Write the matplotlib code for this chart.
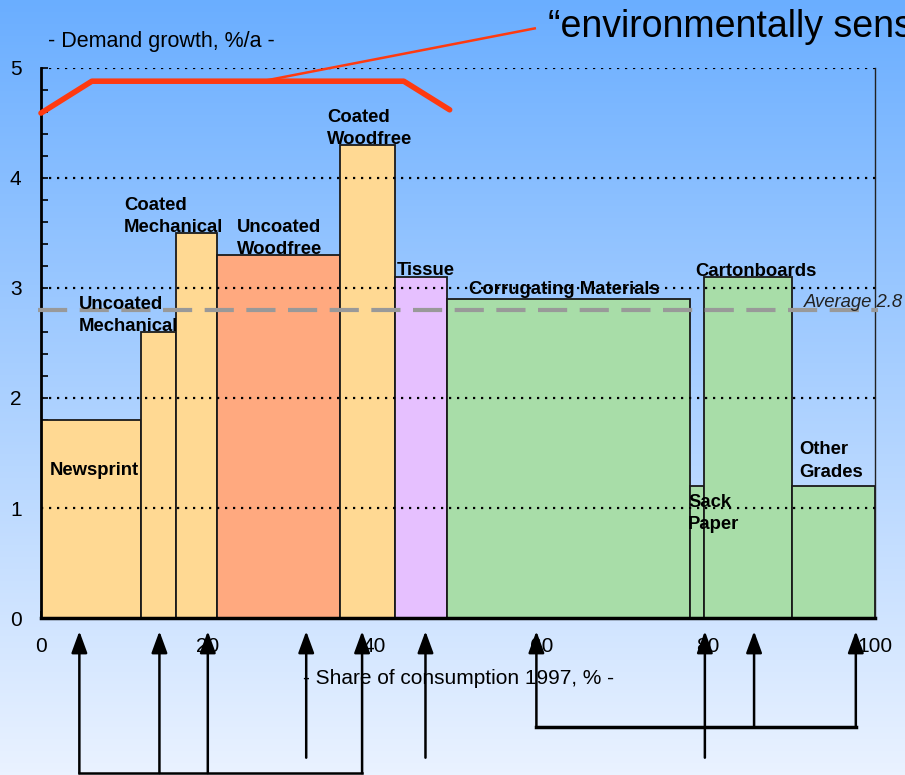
import numpy as np
import matplotlib
matplotlib.use("Agg")
import matplotlib.pyplot as plt
from matplotlib.ticker import MultipleLocator

plt.rcParams['font.family'] = ['Liberation Sans', 'DejaVu Sans']

# Paper & board grades: share of 1997 consumption (%) and demand growth (%/a)
grades = ["Newsprint", "Uncoated\nMechanical", "Coated\nMechanical", "Uncoated\nWoodfree",
          "Coated\nWoodfree", "Tissue", "Corrugating Materials", "Sack\nPaper",
          "Cartonboards", "Other\nGrades"]
shares = [12.0, 4.2, 4.9, 14.7, 6.6, 6.3, 29.1, 1.7, 10.5, 10.0]
growth = [1.8, 2.6, 3.5, 3.3, 4.3, 3.1, 2.9, 1.2, 3.1, 1.2]
colors = ["#FFD993", "#FFD993", "#FFD993", "#FFA97F", "#FFD993", "#E6C0FF",
          "#A8DDA8", "#A8DDA8", "#A8DDA8", "#A8DDA8"]
average_growth = 2.8

# label anchors (x, y) in data units, left aligned
label_pos = [(1.1, 1.34), (4.55, 2.75), (9.95, 3.65), (23.5, 3.45), (34.3, 4.45),
             (42.7, 3.16), (51.3, 2.99), (77.6, 0.95), (78.4, 3.15), (90.9, 1.43)]

# highlighted "environmentally sensitive" envelope
env_x = [0.0, 6.1, 43.5, 49.0]
env_y = [4.59, 4.88, 4.88, 4.62]

# arrows under the x axis
arrow_x = [4.6, 14.2, 20.0, 31.8, 38.5, 46.1, 59.4, 79.6, 85.5, 97.7]
arrow_end = [-1.41, -1.41, -1.41, -1.27, -1.41, -1.27, -0.99, -1.27, -0.99, -0.99]
group_a = [4.6, 38.5]
group_b = [59.4, 97.7]

W, H = 905, 775
fig = plt.figure(figsize=(W / 100, H / 100), dpi=100)

# vertical background gradient
bg = fig.add_axes([0, 0, 1, 1], zorder=-10)
top = np.array([106, 174, 255]) / 255
bot = np.array([234, 242, 255]) / 255
t = np.linspace(0, 1, 256)[:, None]
grad = (top[None, :] * (1 - t) + bot[None, :] * t)[:, None, :]
bg.imshow(grad, aspect='auto', extent=[0, 1, 0, 1])
bg.axis('off')

ax = fig.add_axes([41 / W, 1 - 618 / H, (875 - 41) / W, (618 - 68) / H])
ax.set_facecolor('none')
ax.set_xlim(0, 100)
ax.set_ylim(0, 5)

lefts = np.concatenate([[0], np.cumsum(shares)[:-1]])
ax.bar(lefts, growth, width=shares, align='edge', color=colors,
       edgecolor='#1a1a1a', linewidth=1.3, zorder=2)

# dotted grid
for yv in range(1, 6):
    ax.axhline(yv, color='black', lw=1.6, linestyle=(0, (1, 2.6)), zorder=3)

ax.axhline(average_growth, color='#999999', lw=3, linestyle=(0, (7, 3)), zorder=4,
           xmin=-0.003, xmax=1.003, clip_on=False)
ax.text(103.4, average_growth + 0.07, f"Average {average_growth}", ha='right', va='center',
        fontsize=13.3, style='italic', color='#222222', zorder=5, clip_on=False)

for name, (lx, ly) in zip(grades, label_pos):
    ax.text(lx, ly, name, ha='left', va='center', fontsize=13.3, fontweight='bold',
            linespacing=1.45, color='black', zorder=6)

# axes styling
ax.spines['top'].set_visible(False)
ax.spines['left'].set_linewidth(2)
ax.spines['bottom'].set_linewidth(2.5)
ax.spines['right'].set_linewidth(1)
ax.spines['right'].set_color('#222222')
ax.xaxis.set_major_locator(MultipleLocator(20))
ax.xaxis.set_minor_locator(MultipleLocator(4))
ax.yaxis.set_major_locator(MultipleLocator(1))
ax.yaxis.set_minor_locator(MultipleLocator(0.2))
ax.tick_params(which='both', direction='in', length=5, width=1.2, color='black',
               top=False, right=False)
ax.tick_params(axis='x', which='major', pad=14, labelsize=15)
ax.tick_params(axis='y', which='major', pad=14, labelsize=15)

ax.text(0.84, 5.24, "- Demand growth, %/a -", ha='left', va='center', fontsize=15.5)
ax.text(50, -0.55, "- Share of consumption 1997, % -", ha='center', va='center', fontsize=15)

# red envelope and callout
ax.plot(env_x, env_y, color='#FF3A10', lw=4, solid_capstyle='round',
        solid_joinstyle='round', clip_on=False, zorder=7)
ax.plot([26.5, 59.2], [4.88, 5.36], color='#FF3A10', lw=1.8, clip_on=False, zorder=7)
ax.text(60.8, 5.37, "\u201cenvironmentally sensitive\u201d", ha='left', va='center',
        fontsize=27, clip_on=False)

# arrows below the axis
for xa, ye in zip(arrow_x, arrow_end):
    ax.annotate('', xy=(xa, -0.12), xytext=(xa, ye), annotation_clip=False,
                arrowprops=dict(arrowstyle='-|>,head_length=0.6,head_width=0.22',
                                lw=1.8, color='black',
                                mutation_scale=22, shrinkA=0, shrinkB=0))
ax.plot(group_a, [-1.41, -1.41], color='black', lw=1.8, clip_on=False)
ax.plot(group_b, [-0.99, -0.99], color='black', lw=2.5, clip_on=False)

fig.savefig("out.png", dpi=100)
